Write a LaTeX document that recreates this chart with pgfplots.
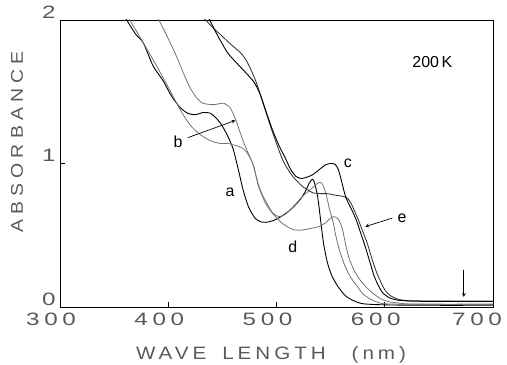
\documentclass[border=0pt]{standalone}
\usepackage{pgfplots}
\pgfplotsset{compat=1.18}
\usepackage{fontspec}
\setmainfont{Liberation Sans}
\newfontfamily\tickfont[FakeStretch=1.35, LetterSpace=26]{Liberation Sans}
\newfontfamily\labfont[FakeStretch=1.15, LetterSpace=30]{Liberation Sans}
\newfontfamily\xlabfont[FakeStretch=1.15, LetterSpace=22]{Liberation Sans}
\begin{document}
\begin{tikzpicture}[x=1bp,y=1bp]
\useasboundingbox (0,0) rectangle (507,364);
\begin{axis}[
  at={(60bp,57bp)}, anchor=south west,
  scale only axis, width=433bp, height=287bp,
  xmin=300, xmax=700, ymin=0, ymax=2,
  xtick={300,400,500,600,700}, ytick={0,1,2},
  xticklabels={300,400,500,600,{\hspace{-14bp}700}},
  tick align=inside, xtick pos=left, ytick pos=left,
  major tick length=5bp,
  axis line style={line width=0.8pt},
  tick style={line width=0.6pt,black},
  /pgf/number format/assume math mode=true,
  scaled ticks=false,
  xticklabel style={font=\fontsize{18}{18}\selectfont\tickfont, text=black!65, xshift=-9bp, yshift=-2bp},
  yticklabel style={font=\fontsize{18}{18}\selectfont\tickfont, text=black!65, yshift=8bp, xshift=-1bp},
  every axis plot/.append style={no markers, smooth, tension=0.4},
  clip=true,
]
% curve a
\addplot[black, line width=0.9pt] coordinates {
(358,2.05) (360,2.02) (370,1.9) (377,1.84) (386,1.68) (395,1.58) (403,1.47) (411,1.39) (418,1.35) (425,1.34) (432,1.355) (439,1.35) (445,1.31) (450,1.26) (455,1.19) (460,1.10) (465,0.95) (469,0.82) (474,0.70) (480,0.62) (485,0.595) (490,0.59) (496,0.60) (502,0.62) (510,0.66) (516,0.70) (522,0.75) (527,0.81) (530,0.86) (533,0.89) (535,0.87) (538,0.77) (541,0.59) (543.5,0.44) (547,0.31) (551,0.22) (557,0.14) (565,0.07) (578,0.025) (600,0.015) (640,0.012) (700,0.012)};
% curve b
\addplot[black!55, line width=0.8pt] coordinates {
(361,2.05) (363,2.02) (370,1.93) (377,1.84) (390,1.67) (398,1.56) (405,1.46) (413,1.35) (420,1.27) (428,1.21) (436,1.17) (442,1.15) (448,1.14) (455,1.14) (460,1.13) (465,1.12) (470,1.10) (474,1.06) (478,1.00) (483,0.86) (487,0.78) (490,0.74) (496,0.66) (502,0.63) (508,0.645) (513,0.68) (518,0.72) (524,0.77) (530,0.81) (536,0.85) (540,0.87) (543,0.85) (546,0.78) (549,0.68) (552,0.60) (555,0.49) (558,0.40) (562,0.31) (566,0.24) (570,0.19) (575,0.14) (580,0.09) (588,0.05) (597,0.025) (610,0.02) (640,0.018) (700,0.018)};
% curve d
\addplot[black!55, line width=0.8pt] coordinates {
(388,2.05) (390,2.02) (400,1.87) (408,1.74) (414,1.63) (420,1.53) (426,1.46) (432,1.42) (442,1.41) (451,1.42) (457,1.39) (461,1.33) (464,1.27) (469,1.16) (474,1.07) (479,0.98) (483,0.85) (487,0.77) (490,0.72) (495,0.665) (499,0.63) (505,0.585) (510,0.56) (515,0.54) (521,0.535) (527,0.54) (533,0.55) (539,0.56) (545,0.585) (550,0.62) (553,0.63) (556,0.62) (558,0.60) (561,0.54) (564,0.43) (567,0.34) (572,0.25) (578,0.18) (584,0.13) (590,0.09) (597,0.055) (605,0.035) (620,0.022) (640,0.02) (700,0.02)};
% curve e
\addplot[black!80, line width=0.85pt] coordinates {
(430,2.05) (432,2.02) (437,1.98) (442,1.94) (448,1.90) (455,1.85) (461,1.81) (467,1.77) (472,1.72) (476,1.66) (480,1.59) (483,1.53) (488,1.41) (494,1.27) (499,1.16) (506,1.02) (513,0.93) (518,0.885) (524,0.84) (529,0.815) (534,0.795) (541,0.79) (547,0.79) (554,0.78) (562,0.77) (566,0.755) (569,0.72) (572,0.67) (576,0.60) (580,0.52) (584,0.44) (588,0.34) (592,0.25) (596,0.18) (600,0.12) (605,0.08) (612,0.055) (620,0.045) (640,0.042) (700,0.042)};
% curve c
\addplot[black, line width=0.9pt] coordinates {
(435,2.05) (437,2.02) (445,1.90) (455,1.77) (467,1.67) (479,1.57) (485,1.48) (490,1.37) (496,1.24) (502,1.13) (508,1.04) (513,0.96) (518,0.91) (523,0.895) (528,0.905) (533,0.92) (540,0.96) (545,0.99) (550,1.0) (554,0.995) (557,0.96) (560,0.88) (563,0.79) (566,0.73) (570,0.67) (574,0.60) (578,0.51) (582,0.42) (586,0.32) (590,0.22) (594,0.15) (598,0.10) (604,0.065) (612,0.048) (630,0.04) (700,0.038)};
% annotations
\node[font=\fontsize{16}{16}\selectfont] at (axis cs:457,0.80) {a};
\node[font=\fontsize{16}{16}\selectfont] at (axis cs:409,1.15) {b};
\node[font=\fontsize{16}{16}\selectfont] at (axis cs:566,1.00) {c};
\node[font=\fontsize{16}{16}\selectfont] at (axis cs:515,0.42) {d};
\node[font=\fontsize{16}{16}\selectfont] at (axis cs:616,0.62) {e};
\node[font=\fontsize{16}{16}\selectfont] at (axis cs:644,1.71) {200\,K};
\draw[-stealth, line width=0.7pt] (axis cs:418,1.18) -- (axis cs:462,1.30);
\draw[-stealth, line width=0.7pt] (axis cs:607,0.62) -- (axis cs:582,0.56);
\draw[-stealth, line width=0.7pt] (axis cs:673,0.26) -- (axis cs:673,0.07);
\end{axis}
\node[rotate=90, font=\fontsize{17}{17}\selectfont\labfont, text=black!65] at (17,222) {ABSORBANCE};
\node[anchor=base, font=\fontsize{18}{18}\selectfont\xlabfont, text=black!65] at (271,5) {WAVE\hspace{16bp}LENGTH\hspace{26bp}(nm)};
\end{tikzpicture}
\end{document}
